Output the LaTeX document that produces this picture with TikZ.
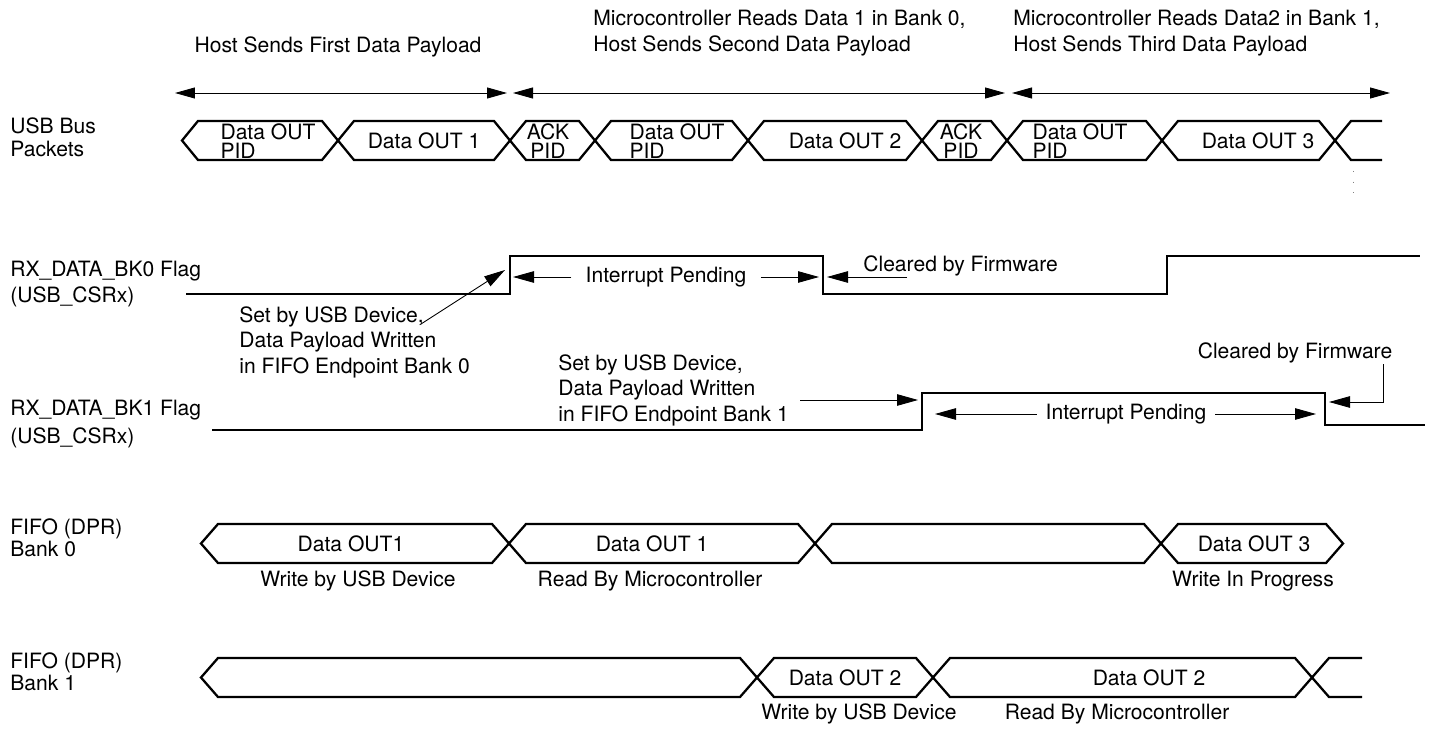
\documentclass[tikz,border=0pt]{standalone}
\usepackage{fontspec}
\setmainfont{TeX Gyre Heros}
\usetikzlibrary{arrows.meta}

\begin{document}
\begin{tikzpicture}[x=0.02cm,y=-0.02cm,font=\fontsize{12}{14.5}\selectfont,
 w/.style={line width=1.3pt,line join=miter},
 f/.style={line width=0.8pt},
 a/.style={line width=0.5pt,-{Triangle[length=4.2mm,width=2.3mm]}},
 aa/.style={line width=0.5pt,{Triangle[length=4mm,width=2.2mm]}-{Triangle[length=4mm,width=2.2mm]}},
 l/.style={align=left,inner sep=0pt},
 p/.style={align=left,inner sep=0pt,font=\fontsize{12}{10.4}\selectfont}]
\useasboundingbox (0,0) rectangle (1430,733);
% phase headers
\node (h1) at (338,47) {Host Sends First Data Payload};
\node[l,anchor=west] (h2) at (593,33) {Microcontroller Reads Data 1 in Bank 0,\\Host Sends Second Data Payload};
\node[l,anchor=west] (h3) at (1013,33) {Microcontroller Reads Data2 in Bank 1,\\Host Sends Third Data Payload};
\coordinate (h1a) at (175,93); \coordinate (h1b) at (507,93);
\coordinate (h2a) at (513,93); \coordinate (h2b) at (1005,93);
\coordinate (h3a) at (1012,93); \coordinate (h3b) at (1390,93);
\draw[aa](h1a)--(h1b);\draw[aa](h2a)--(h2b);\draw[aa](h3a)--(h3b);
% row labels
\node[l,anchor=west,font=\fontsize{12}{13}\selectfont] (usb) at (10,137) {USB Bus\\Packets};
\node[l,anchor=west,font=\fontsize{12}{15.3}\selectfont] (bk0) at (10,284) {RX\_DATA\_BK0 Flag\\(USB\_CSRx)};
\node[l,anchor=west,font=\fontsize{12}{16}\selectfont] (bk1) at (10,424) {RX\_DATA\_BK1 Flag\\(USB\_CSRx)};
\node[p,anchor=west,font=\fontsize{12}{10.8}\selectfont] (fb0) at (10,538) {FIFO (DPR)\\Bank 0};
\node[p,anchor=west,font=\fontsize{12}{10.8}\selectfont] (fb1) at (10,672) {FIFO (DPR)\\Bank 1};
% usb bus packets
\foreach \a/\b in {182/338,338/510,510/595,595/748,748/922,922/1007,1007/1162,1162/1335}
 \draw[w] (\a,140.5)--(\a+16,121)--(\b-16,121)--(\b,140.5)--(\b-16,160)--(\a+16,160)--cycle;
\draw[w] (1382,121)--(1351,121)--(1335,140.5)--(1351,160)--(1382,160);
\draw[gray,line width=0.4pt,dash pattern=on 0.6pt off 5.5pt] (1353,171)--(1353,199);
\node[p] (k1) at (268,141) {Data OUT\\PID};
\node (k2) at (424,141) {Data OUT 1};
\node[p,align=center] (k3) at (548,141) {ACK\\PID};
\node[p] (k4) at (677,141) {Data OUT\\PID};
\node (k5) at (845,141) {Data OUT 2};
\node[p,align=center] (k6) at (961,141) {ACK\\PID};
\node[p] (k7) at (1080,141) {Data OUT\\PID};
\node (k8) at (1258,141) {Data OUT 3};
% RX_DATA_BK0
\draw[f] (186,294)--(510,294)--(510,256)--(823,256)--(823,294)--(1167,294)--(1167,256)--(1420,256);
\node[l,anchor=west] (s0) at (239,342) {Set by USB Device,\\Data Payload Written\\in FIFO Endpoint Bank 0};
\coordinate (s0a) at (421,324); \coordinate (r0) at (505,270);
\draw[a] (s0a)--(r0);
\node[inner xsep=8pt,inner ysep=0pt] (ip0) at (666,277) {Interrupt Pending};
\coordinate (r0l) at (513,277); \coordinate (f0r) at (819,277);
\draw[a] (ip0.west)--(r0l); \draw[a] (ip0.east)--(f0r);
\node[anchor=west,inner sep=0pt] (c0) at (863,266) {Cleared by Firmware};
\coordinate (c0t) at (907,277); \coordinate (f0c) at (827,277);
\draw[a] (c0t)--(f0c);
% RX_DATA_BK1
\draw[f] (212,430)--(922,430)--(922,393)--(1325,393)--(1325,425)--(1425,425);
\node[l,anchor=west] (s1) at (558,390) {Set by USB Device,\\Data Payload Written\\in FIFO Endpoint Bank 1};
\coordinate (s1t) at (800,400); \coordinate (r1) at (918,400);
\draw[a] (s1t)--(r1);
\node[inner xsep=5pt,inner ysep=0pt] (ip1) at (1126,414) {Interrupt Pending};
\coordinate (r1l) at (935,414); \coordinate (f1r) at (1316,414);
\draw[a] (ip1.west)--(r1l); \draw[a] (ip1.east)--(f1r);
\node[inner sep=0pt] (c1) at (1295,353) {Cleared by Firmware};
\coordinate (c1b) at (1383,364); \coordinate (f1c) at (1329,402);
\draw[a] (c1b)|-(f1c);
% fifo bank 0
\foreach \a/\b in {201/509,509/815,815/1161,1161/1343}
 \draw[w] (\a,543.5)--(\a+17,524)--(\b-17,524)--(\b,543.5)--(\b-17,563)--(\a+17,563)--cycle;
\node (d1) at (351,544) {Data OUT1};
\node (d2) at (652,544) {Data OUT 1};
\node (d3) at (1254,544) {Data OUT 3};
\node (w1) at (358,581) {Write by USB Device};
\node (w2) at (650,581) {Read By Microcontroller};
\node (w3) at (1253,581) {Write In Progress};
% fifo bank 1
\foreach \a/\b in {201/757,757/933,933/1312}
 \draw[w] (\a,677.5)--(\a+17,658)--(\b-17,658)--(\b,677.5)--(\b-17,697)--(\a+17,697)--cycle;
\draw[w] (1362,658)--(1329,658)--(1312,677.5)--(1329,697)--(1362,697);
\node (d4) at (845,678) {Data OUT 2};
\node (d5) at (1149,678) {Data OUT 2};
\node (w4) at (859,714) {Write by USB Device};
\node (w5) at (1117,714) {Read By Microcontroller};
\end{tikzpicture}
\end{document}
